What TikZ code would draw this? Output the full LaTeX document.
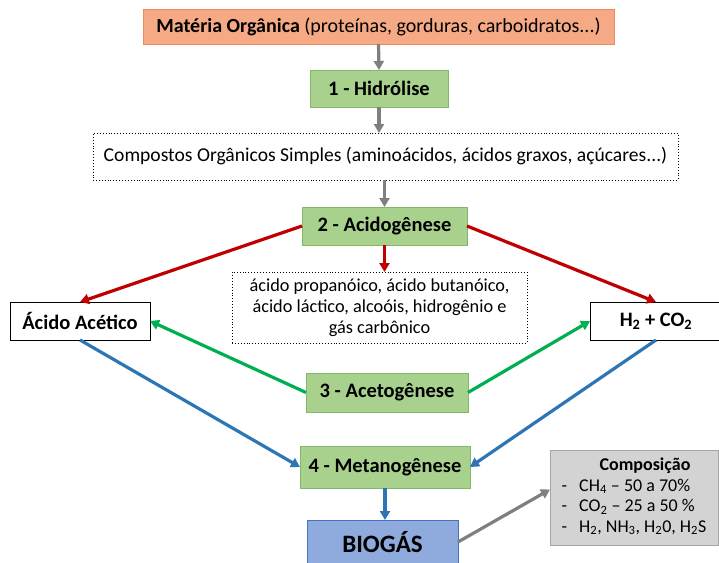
\documentclass[tikz,border=0pt]{standalone}
\usepackage{fontspec}
\setmainfont{Carlito}
\usetikzlibrary{arrows.meta}
\definecolor{salmon}{HTML}{F6A985}
\definecolor{salmonb}{HTML}{EE8A5E}
\definecolor{gfill}{HTML}{A9D18E}
\definecolor{gbord}{HTML}{82B866}
\definecolor{bfill}{HTML}{8FAADC}
\definecolor{bbord}{HTML}{4472C4}
\definecolor{cfill}{HTML}{D3D3D3}
\definecolor{cbord}{HTML}{A6A6A6}
\definecolor{arrgray}{HTML}{7F7F7F}
\definecolor{arrred}{HTML}{C00000}
\definecolor{arrgreen}{HTML}{00B050}
\definecolor{arrblue}{HTML}{2E75B6}
\tikzset{
  x=1pt,y=-1pt,
  every node/.style={font=\fontsize{18}{21}\selectfont, inner sep=0pt, outer sep=0pt},
  box/.style={draw, line width=0.9pt, anchor=north west},
  stage/.style={box, fill=gfill, draw=gbord, font=\fontsize{20.5}{24}\selectfont\bfseries},
  dotbox/.style={box, draw=black, dotted, line width=0.8pt},
  plainbox/.style={box, draw=black, line width=0.9pt, font=\fontsize{20.5}{24}\selectfont\bfseries},
  conn/.style={line width=3.2pt, -{Triangle[length=9pt,width=10pt]}},
}
\begin{document}
\begin{tikzpicture}
\useasboundingbox (0,0) rectangle (719,562);
% boxes
\node[box, fill=salmon, draw=salmonb, minimum width=471pt, minimum height=35pt] (mo) at (143,9)
  {\fontsize{20}{24}\selectfont\textbf{Matéria Orgânica} (proteínas, gorduras, carboidratos...)};
\node[stage, minimum width=138pt, minimum height=37pt] (hid) at (310,70) {1 - Hidrólise};
\node[dotbox, minimum width=585pt, minimum height=47pt, font=\fontsize{19.6}{23}\selectfont] (cos) at (93,133)
  {Compostos Orgânicos Simples (aminoácidos, ácidos graxos, açúcares...)};
\node[stage, minimum width=165pt, minimum height=38pt] (aci) at (302,207) {2 - Acidogênese};
\node[dotbox, minimum width=295pt, minimum height=71pt, align=center, font=\fontsize{18.3}{21}\selectfont] (prod) at (232,272)
  {ácido propanóico, ácido butanóico,\\ácido láctico, alcoóis, hidrogênio e\\gás carbônico};
\node[plainbox, minimum width=140pt, minimum height=38pt] (aa) at (10,302) {Ácido Acético};
\node[plainbox, minimum width=132pt, minimum height=38pt] (hc) at (590,302) {H\textsubscript{2} + CO\textsubscript{2}};
\node[stage, minimum width=162pt, minimum height=39pt] (ace) at (306,373) {3 - Acetogênese};
\node[stage, minimum width=170pt, minimum height=42pt] (met) at (300,446) {4 - Metanogênese};
\node[box, fill=bfill, draw=bbord, minimum width=151pt, minimum height=44pt, font=\fontsize{25}{30}\selectfont\bfseries] (bio) at (307,520) {BIOGÁS};
\node[box, fill=cfill, draw=cbord, minimum width=168pt, minimum height=95pt, font=\fontsize{18}{20.5}\selectfont] (comp) at (550,450)
  {\begin{tabular}{@{}l@{\hspace{12pt}}l@{}}
   \multicolumn{2}{c}{\hspace{22pt}\textbf{Composição}}\\
   - & CH\textsubscript{4} – 50 a 70\%\\
   - & CO\textsubscript{2} – 25 a 50 \%\\
   - & H\textsubscript{2}, NH\textsubscript{3}, H\textsubscript{2}0, H\textsubscript{2}S
   \end{tabular}};
% connectors
\draw[conn, arrgray] (mo.south) -- (hid.north);
\draw[conn, arrgray] (hid.south) -- (cos.north -| hid.south);
\draw[conn, arrgray] (cos.south -| aci.north) -- (aci.north);
\draw[conn, arrred] (aci.west) -- (aa.north);
\draw[conn, arrred] (aci.east) -- (hc.north);
\draw[conn, arrred] (aci.south) -- (aci.south |- prod.north);
\draw[conn, arrgreen] (ace.west) -- (aa.east);
\draw[conn, arrgreen] (ace.east) -- (hc.west);
\draw[conn, arrblue] (aa.south) -- (met.west);
\draw[conn, arrblue] (hc.south) -- (met.east);
\draw[conn, arrblue] (met.south) -- (bio.north -| met.south);
\draw[conn, arrgray] (bio.east) -- ([yshift=8pt]comp.west);
\end{tikzpicture}
\end{document}
